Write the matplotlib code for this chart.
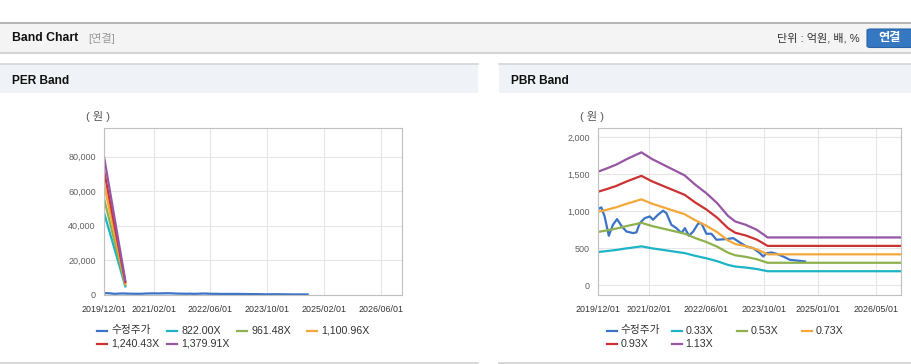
import matplotlib
matplotlib.use('Agg')
import matplotlib.pyplot as plt
import matplotlib.dates as mdates
from matplotlib.patches import Rectangle, FancyBboxPatch
from matplotlib.lines import Line2D
import pandas as pd

plt.rcParams['font.family'] = ['Liberation Sans', 'Noto Sans CJK KR']

# ---- data ----
price_dates = ['2019-12-01', '2019-12-29', '2020-01-26', '2020-03-01', '2020-04-05', '2020-05-10',
               '2020-06-15', '2020-07-27', '2020-09-22', '2020-10-20', '2020-11-18', '2020-12-30',
               '2021-02-10', '2021-03-09', '2021-04-20', '2021-06-02', '2021-06-30', '2021-08-11',
               '2021-09-23', '2021-11-05', '2021-12-03', '2022-01-06', '2022-02-12', '2022-03-24',
               '2022-04-21', '2022-06-03', '2022-07-15', '2022-08-27', '2022-11-20', '2023-01-15',
               '2023-03-11', '2023-05-06', '2023-07-02', '2023-08-28', '2023-09-25', '2023-10-23',
               '2023-12-05', '2024-01-17', '2024-03-12', '2024-05-08', '2024-07-03', '2024-09-12']
price_values = [1027, 1050, 928, 667, 815, 892, 802, 725, 703, 712, 838, 905,
                928, 883, 950, 1005, 973, 815, 770, 703, 770, 667, 725, 829,
                838, 694, 694, 613, 622, 635, 577, 523, 500, 432, 387, 432,
                441, 423, 387, 342, 333, 320]

eps_dates = ['2019-12-01', '2020-06-01']
eps_values = [58.0, 6.0]
per_multiples = [822.00, 961.48, 1100.96, 1240.43, 1379.91]
per_labels = ['수정주가', '822.00X', '961.48X', '1,100.96X', '1,240.43X', '1,379.91X']

bps_dates = ['2019-12-01', '2020-02-01', '2020-05-01', '2020-08-01', '2020-12-01', '2021-03-01',
             '2021-07-01', '2021-12-01', '2022-03-01', '2022-06-01', '2022-09-01', '2022-12-01',
             '2023-02-01', '2023-05-01', '2023-08-01', '2023-10-01', '2023-11-01', '2026-12-01']
bps_values = [1356, 1388, 1439, 1507, 1587, 1507, 1420, 1312, 1200, 1100, 981, 829,
              761, 721, 662, 602, 570, 570]
pbr_multiples = [0.33, 0.53, 0.73, 0.93, 1.13]
pbr_labels = ['수정주가', '0.33X', '0.53X', '0.73X', '0.93X', '1.13X']

per_xticks = ['2019-12-01', '2021-02-01', '2022-06-01', '2023-10-01', '2025-02-01', '2026-06-01']
pbr_xticks = ['2019-12-01', '2021-02-01', '2022-06-01', '2023-10-01', '2025-01-01', '2026-05-01']
x_range = ['2019-12-01', '2026-12-01']

colors = ['#3b74c6', '#1cb4c6', '#8eb14e', '#f4a83a', '#cc3232', '#9656a4']

W, H = 912, 364
fig = plt.figure(figsize=(W / 100, H / 100), dpi=100)
fig.patch.set_facecolor('white')


def fx(x):
    return x / W


def fy(y):
    return 1 - y / H


def hline(x0, x1, y, color, lw):
    fig.add_artist(Line2D([fx(x0), fx(x1)], [fy(y), fy(y)], color=color, lw=lw))


# ---- page decoration ----
fig.add_artist(Rectangle((0, fy(52.5)), 1, 30 / H, transform=fig.transFigure,
                         facecolor='#f4f4f4', edgecolor='none'))
hline(0, W, 22.5, '#a9a9a9', 1.2)
hline(0, W, 53.3, '#d4d4d4', 1.5)
fig.text(fx(12), fy(38), 'Band Chart', fontsize=8.8, fontweight='bold', color='#111111', va='center')
fig.text(fx(88), fy(38.5), '[연결]', fontsize=8, color='#999999', va='center')
fig.text(fx(860), fy(38.5), '단위 : 억원, 배, %', fontsize=8, color='#333333', va='center', ha='right')
fig.add_artist(FancyBboxPatch((fx(867), fy(47.5)), fx(50), 18.5 / H, transform=fig.transFigure,
                              boxstyle='round,pad=0,rounding_size=0.004',
                              facecolor='#3577c0', edgecolor='#2a64a8', lw=0.8))
fig.text(fx(890), fy(38.3), '연결', fontsize=8.8, fontweight='bold', color='white', va='center', ha='center')

for (x0, x1, title) in [(0, 478, 'PER Band'), (499, 912, 'PBR Band')]:
    fig.add_artist(Rectangle((fx(x0), fy(93)), fx(x1 - x0), 29 / H, transform=fig.transFigure,
                             facecolor='#eff2f6', edgecolor='none'))
    hline(x0, x1, 64, '#d3d6da', 1.2)
    hline(x0, x1, 362.5, '#cfcfcf', 1.2)
    fig.text(fx(x0 + 12), fy(80.5), title, fontsize=8.6, fontweight='bold', color='#111111', va='center')


def draw_legend(x0, y0, pitch, labels):
    for i, (lab, col) in enumerate(zip(labels, colors)):
        r, c = divmod(i, 4)
        x = x0 + c * pitch
        y = y0 + r * 13.5
        fig.add_artist(Line2D([fx(x), fx(x + 10)], [fy(y), fy(y)], color=col, lw=1.6))
        fig.text(fx(x + 14), fy(y), lab, fontsize=7.7, color='#333333', va='center')


def setup_axes(rect, ylim, yticks, xticks, unit_x):
    ax = fig.add_axes(rect)
    ax.set_facecolor('white')
    ax.set_xlim(pd.to_datetime(x_range[0]), pd.to_datetime(x_range[1]))
    ax.set_ylim(*ylim)
    ax.set_yticks(yticks)
    ax.yaxis.set_major_formatter(matplotlib.ticker.FuncFormatter(lambda v, p: f'{v:,.0f}'))
    ax.set_xticks(pd.to_datetime(xticks))
    ax.xaxis.set_major_formatter(mdates.DateFormatter('%Y/%m/%d'))
    ax.tick_params(axis='both', length=0)
    ax.tick_params(axis='x', labelsize=6.4, labelcolor='#333333', pad=7)
    ax.tick_params(axis='y', labelsize=6.5, labelcolor='#606060', pad=6)
    ax.grid(True, color='#e6e6e6', lw=0.8)
    ax.set_axisbelow(True)
    for s in ax.spines.values():
        s.set_color('#c0c0c0')
        s.set_linewidth(0.8)
    fig.text(fx(unit_x), fy(117), '( 원 )', fontsize=8, color='#555555', va='center', ha='center')
    return ax


# ---- PER band ----
ax1 = setup_axes([fx(104), fy(295), fx(298), 167 / H], (0, 96500),
                 [0, 20000, 40000, 60000, 80000], per_xticks, 98.5)
ax1.plot(pd.to_datetime(price_dates), price_values, color=colors[0], lw=1.6)
for m, col in zip(per_multiples, colors[1:]):
    ax1.plot(pd.to_datetime(eps_dates), [m * e for e in eps_values], color=col, lw=1.6)
draw_legend(97.3, 330.5, 70, per_labels)

# ---- PBR band ----
ax2 = setup_axes([fx(598), fy(295), fx(303), 167 / H], (-133, 2122),
                 [0, 500, 1000, 1500, 2000], pbr_xticks, 592.5)
ax2.plot(pd.to_datetime(price_dates), price_values, color=colors[0], lw=1.6)
for m, col in zip(pbr_multiples, colors[1:]):
    ax2.plot(pd.to_datetime(bps_dates), [m * b for b in bps_values], color=col, lw=1.6)
draw_legend(606.7, 330.5, 65, pbr_labels)

fig.savefig('out.png', dpi=100)
